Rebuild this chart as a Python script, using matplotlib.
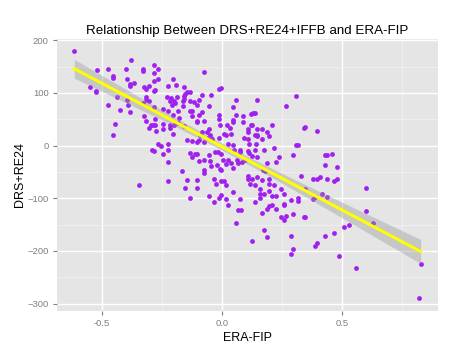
import numpy as np
import matplotlib
matplotlib.use('Agg')
import matplotlib.pyplot as plt
from matplotlib.ticker import MultipleLocator

# ERA-FIP (x) and DRS+RE24 (y) per pitcher season
era_fip = [
    -0.615, -0.38, -0.52, -0.475, -0.40, -0.327, -0.327, -0.283, -0.267, -0.283,
    -0.454, -0.454, -0.396, -0.383, -0.383, -0.367, -0.268, -0.283, -0.204, -0.193,
    -0.225, -0.157, -0.548, -0.525, -0.525, -0.324, -0.317, -0.303, -0.282, -0.277,
    -0.474, -0.437, -0.395, -0.393, -0.424, -0.382, -0.315, -0.315, -0.303, -0.328,
    -0.283, -0.246, -0.228, -0.212, -0.217, -0.20, -0.197, -0.208, -0.186, -0.158,
    -0.158, -0.162, -0.161, -0.183, -0.204, -0.225, -0.325, -0.317, -0.277, -0.296,
    -0.302, -0.287, -0.278, -0.275, -0.246, -0.246, -0.218, -0.218, -0.199, -0.203,
    -0.446, -0.453, -0.267, -0.253, -0.293, -0.282, -0.225, -0.225, -0.245, -0.225,
    -0.164, -0.157, -0.178, -0.345, -0.224,
    -0.074, -0.01, -0.003, 0.31, 0.267, 0.146, 0.058, 0.047,
    -0.152, -0.145, -0.133, -0.045, -0.082, -0.096, -0.115, -0.103, -0.132,
    -0.054, -0.131, -0.124, -0.083, -0.096, -0.125, -0.103, -0.103, -0.183,
    -0.074, -0.01, -0.01, 0.023, 0.046, 0.046, 0.06, 0.089, 0.089,
    0.12, 0.13, 0.14, 0.12, 0.126, 0.148, 0.168, 0.11, 0.208, 0.344,
    0.036, -0.006, -0.054, -0.061, -0.05, -0.082, -0.089, 0.007, 0.017, 0.0375,
    0.107, 0.139, 0.148, 0.146, 0.189, 0.197, 0.167, 0.144, 0.1125, 0.11, 0.094,
    0.046, 0.025, -0.0125, -0.039, -0.075, -0.095, -0.103, -0.124, -0.145, -0.054, -0.046,
    0.076, 0.075, 0.05, 0.114, 0.11, 0.139, 0.176, 0.218, 0.31, 0.316,
    0.296, 0.2375, 0.225, 0.189, 0.1275, 0.147, 0.065, 0.068,
    0.0275, 0.0375, 0.017, 0.005, 0.046, -0.008, -0.003, -0.021,
    -0.049, -0.027, -0.018, -0.004, -0.054, -0.095, -0.074,
    -0.133, -0.1225, -0.1125, -0.103, -0.0725, -0.0725, -0.045, 0.086, 0.096, 0.172, 0.18,
    -0.145, -0.153, -0.104, -0.104, -0.133,
    -0.032, -0.024, -0.003, 0.007, 0.017, -0.003, -0.0125, -0.033, -0.054, 0.018,
    0.026, 0.047, 0.076, 0.069, 0.078, 0.06, 0.126,
    0.11, 0.11, 0.126, 0.118, 0.147, 0.168, 0.139, 0.16, 0.16, 0.176,
    0.16, 0.139, 0.168, 0.1875, 0.197, 0.208, 0.226, 0.208, 0.226, 0.197,
    0.218, 0.197, 0.197, 0.246, 0.26, 0.2875, 0.316, 0.316, 0.33, 0.26,
    0.26, 0.247, 0.268, 0.26, 0.296, 0.344, 0.175, 0.189, 0.2875, 0.296, 0.2875,
    0.43, 0.479, 0.38, 0.397, 0.408, 0.439, 0.468, 0.479, 0.6, 0.347,
    0.38, 0.389, 0.418, 0.439, 0.347, 0.6, 0.63, 0.51, 0.53, 0.468,
    0.43, 0.397, 0.389, 0.4875, 0.558, 0.829, 0.821,
    0.347, 0.397, 0.43, 0.439, 0.46,
]
drs_re24 = [
    179, 163, 143, 145, 145, 146, 141, 154, 146, 137,
    133, 128, 126, 117, 114, 118, 126, 123, 126, 115,
    113, 111, 111, 104, 101, 111, 108, 114, 104, 106,
    78, 93, 87, 78, 68, 63, 92, 87, 84, 81,
    73, 70, 92, 91, 84, 84, 81, 78, 93, 95,
    89, 84, 75, 66, 59, 65, 56, 47, 51, 40,
    34, 39, 40, 27, 42, 31, 40, 34, 39, 23,
    41, 20, 4, -1, -8, -11, 4, -9, -15, -32,
    -49, 37, 53, -74, -68,
    139, 108, 109, 95, 75, 86, 86, 73,
    98, 101, 102, 97, 97, 86, 83, 78, 84,
    76, 66, 66, 63, 59, 56, 47, 44, 43,
    46, 59, 50, 40, 49, 45, 58, 56, 44,
    60, 61, 62, 40, 40, 31, 32, 32, 39, 34,
    33, 39, 31, 25, 21, 25, 21, 23, 21, 23,
    25, 21, 21, 19, 25, 19, 13, 4, 4, 13, 15,
    1, 4, 14, 13, 6, 10, 7, 9, 10, 17, 15,
    -8, -13, -8, -14, -10, -9, -8, -5, 1, 1,
    -17, -22, -32, -33, -20, -21, -27, -33,
    -28, -33, -35, -28, -42, -44, -47, -37,
    -30, -13, -13, -15, -17, -30, -28,
    -14, -21, -15, -16, -47, -52, -39, -31, -28, -47, -49,
    -66, -81, -66, -81, -100,
    -64, -72, -68, -68, -74, -93, -100, -108, -96, -102,
    -112, -89, -102, -123, -123, -146, -182,
    -58, -64, -64, -72, -60, -66, -75, -83, -92, -92,
    -100, -108, -127, -121, -115, -113, -121, -96, -96, -87,
    -75, -73, -64, -83, -92, -104, -100, -106, -58, -110,
    -113, -136, -134, -142, -130, -136, -161, -174, -172, -197, -206,
    -36, -41, -64, -64, -60, -63, -68, -63, -81, -83,
    -102, -97, -91, -97, -136, -125, -146, -155, -150, -165,
    -172, -185, -191, -210, -233, -225, -290,
    35, 28, -18, -18, -15,
]

x = np.array(era_fip)
y = np.array(drs_re24)

plt.rcParams['font.family'] = ['Liberation Sans', 'DejaVu Sans']

fig = plt.figure(figsize=(4.58, 3.56), dpi=100)
ax = fig.add_axes([57 / 458, 1 - 310.7 / 356, 381 / 458, 271.7 / 356])

ax.set_facecolor('#E5E5E5')
for s in ax.spines.values():
    s.set_visible(False)

ax.xaxis.set_major_locator(MultipleLocator(0.5))
ax.xaxis.set_minor_locator(MultipleLocator(0.25))
ax.yaxis.set_major_locator(MultipleLocator(100))
ax.yaxis.set_minor_locator(MultipleLocator(50))
ax.grid(which='major', color='white', linewidth=1.0)
ax.grid(which='minor', color='#F2F2F2', linewidth=0.5)
ax.set_axisbelow(True)

ax.scatter(x, y, s=12, color='#A020F0', linewidths=0, zorder=3)

# linear fit with 95% confidence band
b1, b0 = np.polyfit(x, y, 1)
n = len(x)
resid = y - (b0 + b1 * x)
s_err = np.sqrt(np.sum(resid ** 2) / (n - 2))
sxx = np.sum((x - x.mean()) ** 2)
xs = np.linspace(x.min(), x.max(), 80)
fit = b0 + b1 * xs
se = s_err * np.sqrt(1 / n + (xs - x.mean()) ** 2 / sxx)
ax.fill_between(xs, fit - 1.968 * se, fit + 1.968 * se, color='#999999', alpha=0.4,
                linewidth=0, zorder=4)
ax.plot(xs, fit, color='yellow', linewidth=2.2, zorder=5)

xr = x.max() - x.min()
yr = y.max() - y.min()
ax.set_xlim(x.min() - 0.05 * xr, x.max() + 0.05 * xr)
ax.set_ylim(y.min() - 0.05 * yr, y.max() + 0.05 * yr)

ax.set_xticks([-0.5, 0.0, 0.5])
ax.set_xticklabels(['-0.5', '0.0', '0.5'])
ax.tick_params(which='major', length=3, color='#7F7F7F', labelcolor='#7F7F7F',
               labelsize=6.8, pad=3)
ax.tick_params(which='minor', length=0)

ax.set_title('Relationship Between DRS+RE24+IFFB and ERA-FIP', fontsize=9.6, pad=3.6)
ax.set_xlabel('ERA-FIP', fontsize=9, labelpad=3)
ax.set_ylabel('DRS+RE24', fontsize=9)
ax.yaxis.set_label_coords(-0.082, 0.5)

plt.savefig('out.png', dpi=100)
